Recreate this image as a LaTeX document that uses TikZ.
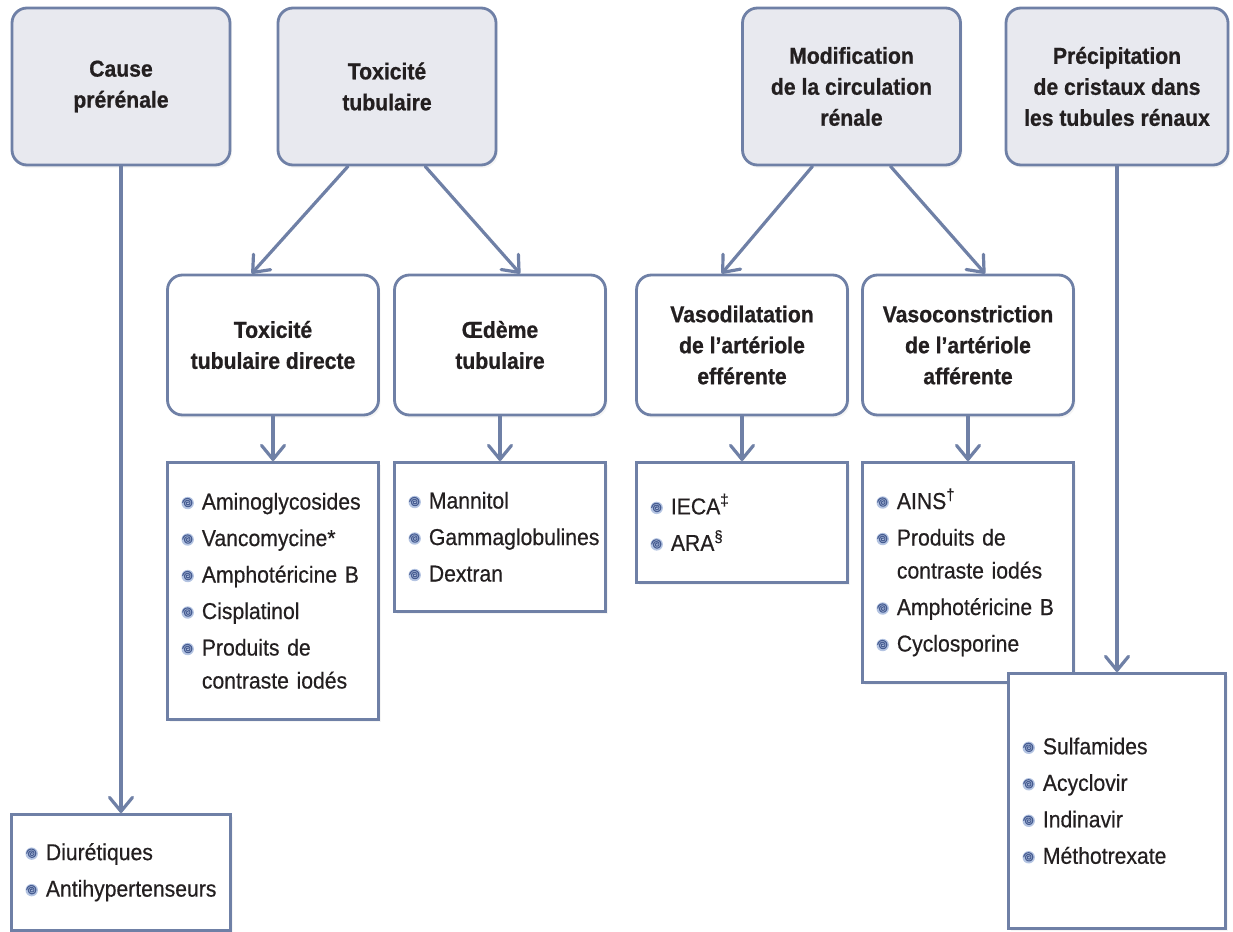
\documentclass[tikz,border=0pt]{standalone}
\usepackage{fontspec}
\setmainfont{Liberation Sans}[FakeStretch=0.92,
  UprightFeatures={FakeBold=0.5},BoldFeatures={FakeBold=0.8}]
\usetikzlibrary{calc,arrows.meta,shadows}

\definecolor{bord}{RGB}{111,128,166}
\definecolor{headfill}{RGB}{232,233,239}
\definecolor{ink}{RGB}{35,31,32}
\definecolor{bulfill}{RGB}{180,196,226}
\definecolor{bulline}{RGB}{70,92,145}

\newcommand\bul{\tikz[baseline={(0,-6.5pt)}]{\fill[bulfill] (0,0) circle (6.2pt);
  \draw[bulline,line width=1.1pt,domain=0:900,samples=50,smooth,variable=\t]
    plot ({\t}:{0.4pt+\t/900*4.6pt});}}
\newcommand\itm[1]{\mbox{\bul\hspace{8pt}#1}}
\newcommand\cont{\hspace*{20.4pt}}

\begin{document}
\begin{tikzpicture}[x=1pt,y=-1pt,
  head/.style={draw=bord,line width=2.8pt,fill=headfill,rounded corners=15pt,
    minimum width=218pt,minimum height=157pt,align=center,text=ink,
    font=\bfseries\fontsize{23}{31}\selectfont,
    drop shadow={opacity=0.08,shadow xshift=2pt,shadow yshift=-3pt}},
  mid/.style={head,fill=white,minimum width=211pt,minimum height=140pt},
  lst/.style={draw=bord,line width=2.6pt,fill=white,anchor=north,
    minimum width=211pt,text width=183pt,inner xsep=14pt,align=left,text=ink,
    font=\fontsize{23}{33}\selectfont,
    drop shadow={opacity=0.08,shadow xshift=2pt,shadow yshift=-3pt}},
  arr/.style={draw=bord,line width=3.2pt,line cap=round,
    -{Straight Barb[length=14pt,width=23pt,round]}}]
\useasboundingbox (0,0) rectangle (1233,931);

% causes
\node[head] (cause) at (121,86.5) {Cause\\prérénale};
\node[head] (tox) at (387,86.5) {Toxicité\\tubulaire};
\node[head] (modif) at (851.5,86.5) {Modification\\de la circulation\\rénale};
\node[head,minimum width=222pt] (precip) at (1117,86.5) {Précipitation\\de cristaux dans\\les tubules rénaux};

% mechanisms
\node[mid] (ttd) at (273,345) {Toxicité\\tubulaire directe};
\node[mid] (oed) at (500,345) {Œdème\\tubulaire};
\node[mid] (vaso) at (742,345) {Vasodilatation\\de l’artériole\\efférente};
\node[mid] (vcon) at (968,345) {Vasoconstriction\\de l’artériole\\afférente};

% drugs
\node[lst,minimum height=257pt] (lttd) at (273,461) {\itm{Aminoglycosides}\\[3.5pt]
  \itm{Vancomycine*}\\[3.5pt]
  \itm{Amphotéricine B}\\[3.5pt] \itm{Cisplatinol}\\[3.5pt]
  \itm{Produits de}\\ \cont contraste iodés};
\node[lst,minimum height=149pt] (loed) at (500,461) {\itm{Mannitol}\\[3.5pt]
  \itm{Gammaglobulines}\\[3.5pt] \itm{Dextran}};
\node[lst,minimum height=120pt] (lvaso) at (742,461) {\itm{IECA\textsuperscript{‡}}\\[3.5pt]
  \itm{ARA\textsuperscript{§}}};
\node[lst,minimum height=220pt] (lvcon) at (968,461) {\itm{AINS\textsuperscript{†}}\\[3.5pt]
  \itm{Produits de}\\ \cont contraste iodés\\[3.5pt]
  \itm{Amphotéricine B}\\[3.5pt] \itm{Cyclosporine}};
\node[lst,minimum width=219pt,text width=191pt,minimum height=116pt] (lcause) at (121,813)
  {\itm{Diurétiques}\\[3.5pt] \itm{Antihypertenseurs}};
\node[lst,minimum width=217pt,text width=189pt,minimum height=255pt] (lprecip) at (1117,672)
  {\itm{Sulfamides}\\[3.5pt] \itm{Acyclovir}\\[3.5pt] \itm{Indinavir}\\[3.5pt]
  \itm{Méthotrexate}};

% arrows
\draw[arr] (cause) -- (lcause);
\draw[arr] (precip) -- (lprecip);
\draw[arr] ($(tox.south west)!0.323!(tox.south east)$) -- ($(ttd.north west)!0.4!(ttd.north east)$);
\draw[arr] ($(tox.south west)!0.673!(tox.south east)$) -- ($(oed.north west)!0.594!(oed.north east)$);
\draw[arr] ($(modif.south west)!0.323!(modif.south east)$) -- ($(vaso.north west)!0.405!(vaso.north east)$);
\draw[arr] ($(modif.south west)!0.677!(modif.south east)$) -- ($(vcon.north west)!0.58!(vcon.north east)$);
\foreach \a/\b in {ttd/lttd,oed/loed,vaso/lvaso,vcon/lvcon}
  \draw[arr] (\a) -- (\b);
\end{tikzpicture}
\end{document}
